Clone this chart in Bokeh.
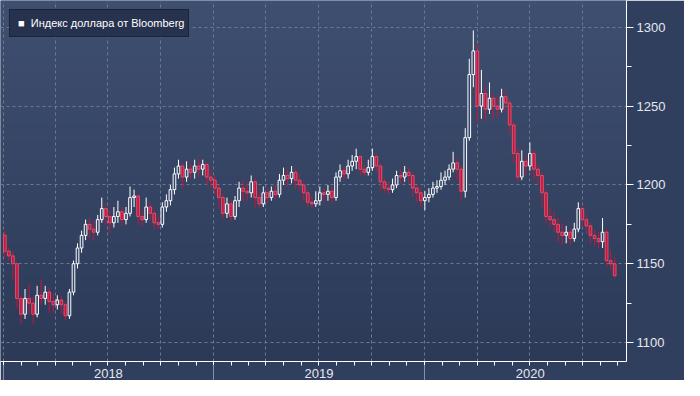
import numpy as np
import pandas as pd
from bokeh.plotting import figure
from bokeh.models import (ColumnDataSource, Range1d, FixedTicker, LinearAxis,
                          Legend, LegendItem, Label, Grid)
from bokeh.embed import file_html
from bokeh.resources import INLINE

# ---- data (weekly candles) ----
week_start = "2018-01-01"
opens = [1168, 1158, 1155, 1150, 1128, 1118, 1128, 1125, 1118, 1130, 1128, 1132, 1126, 1124, 1127, 1124,
         1117, 1132, 1150, 1160, 1168, 1175, 1172, 1170, 1178, 1185, 1180, 1176, 1180, 1183, 1178, 1182,
         1192, 1193, 1180, 1178, 1186, 1182, 1176, 1175, 1186, 1190, 1197, 1207, 1212, 1205, 1210, 1208,
         1212, 1210, 1213, 1205, 1203, 1198, 1192, 1182, 1188, 1180, 1190, 1198, 1196, 1195, 1202, 1192,
         1188, 1195, 1192, 1196, 1194, 1203, 1206, 1204, 1208, 1203, 1200, 1195, 1189, 1188, 1190, 1195,
         1194, 1196, 1192, 1205, 1209, 1207, 1212, 1215, 1218, 1210, 1208, 1211, 1218, 1212, 1202, 1198,
         1197, 1200, 1206, 1205, 1208, 1206, 1198, 1195, 1190, 1192, 1194, 1198, 1199, 1203, 1205, 1210,
         1214, 1210, 1196, 1230, 1270, 1285, 1250, 1258, 1248, 1255, 1250, 1248, 1256, 1252, 1238, 1220,
         1205, 1215, 1212, 1220, 1210, 1206, 1195, 1180, 1178, 1175, 1170, 1168, 1170, 1166, 1172, 1185,
         1178, 1174, 1168, 1166, 1164, 1170, 1152, 1150]
closes = [1158, 1155, 1150, 1128, 1118, 1128, 1125, 1118, 1130, 1128, 1132, 1126, 1124, 1127, 1124, 1117,
          1132, 1150, 1160, 1168, 1175, 1172, 1170, 1178, 1185, 1180, 1176, 1180, 1183, 1178, 1182, 1192,
          1193, 1180, 1178, 1186, 1182, 1176, 1175, 1186, 1190, 1197, 1207, 1212, 1205, 1210, 1208, 1212,
          1210, 1213, 1205, 1203, 1198, 1192, 1182, 1188, 1180, 1190, 1198, 1196, 1195, 1202, 1192, 1188,
          1195, 1192, 1196, 1194, 1203, 1206, 1204, 1208, 1203, 1200, 1195, 1189, 1188, 1190, 1195, 1194,
          1196, 1192, 1205, 1209, 1207, 1212, 1215, 1218, 1210, 1208, 1211, 1218, 1212, 1202, 1198, 1197,
          1200, 1206, 1205, 1208, 1206, 1198, 1195, 1190, 1192, 1194, 1198, 1199, 1203, 1205, 1210, 1214,
          1210, 1196, 1230, 1270, 1285, 1250, 1258, 1248, 1255, 1250, 1248, 1256, 1252, 1238, 1220, 1205,
          1215, 1212, 1220, 1210, 1206, 1195, 1180, 1178, 1175, 1170, 1168, 1170, 1166, 1172, 1185, 1178,
          1174, 1168, 1166, 1164, 1170, 1152, 1150, 1142.43]
highs = [1171, 1160, 1158, 1151, 1130, 1134, 1137, 1129, 1136, 1140, 1136, 1135, 1131, 1130, 1130, 1126,
         1134, 1152, 1163, 1171, 1178, 1179, 1177, 1181, 1192, 1188, 1184, 1186, 1190, 1186, 1186, 1199,
         1197, 1194, 1184, 1192, 1189, 1184, 1180, 1189, 1194, 1200, 1211, 1216, 1214, 1215, 1214, 1216,
         1217, 1216, 1214, 1210, 1206, 1200, 1194, 1192, 1190, 1193, 1202, 1203, 1201, 1206, 1204, 1196,
         1199, 1198, 1199, 1200, 1207, 1211, 1210, 1212, 1210, 1207, 1202, 1197, 1193, 1196, 1199, 1198,
         1200, 1199, 1208, 1213, 1212, 1216, 1219, 1223, 1219, 1213, 1216, 1223, 1220, 1214, 1204, 1202,
         1204, 1209, 1210, 1212, 1211, 1208, 1200, 1198, 1196, 1198, 1202, 1203, 1208, 1209, 1213, 1221,
         1217, 1212, 1236, 1280, 1298, 1290, 1273, 1263, 1265, 1258, 1256, 1261, 1260, 1254, 1240, 1224,
         1222, 1218, 1227, 1222, 1213, 1208, 1197, 1186, 1183, 1179, 1176, 1174, 1173, 1176, 1189, 1187,
         1181, 1176, 1172, 1170, 1179, 1172, 1159, 1154]
lows = [1154, 1152, 1140, 1122, 1112, 1115, 1118, 1112, 1116, 1124, 1124, 1119, 1119, 1121, 1118, 1114,
        1115, 1130, 1147, 1157, 1165, 1166, 1165, 1168, 1176, 1175, 1170, 1173, 1176, 1174, 1175, 1180,
        1186, 1175, 1174, 1176, 1178, 1172, 1172, 1173, 1183, 1187, 1194, 1204, 1198, 1202, 1204, 1204,
        1205, 1206, 1200, 1198, 1194, 1186, 1179, 1179, 1177, 1178, 1186, 1190, 1190, 1192, 1186, 1185,
        1186, 1188, 1190, 1191, 1192, 1200, 1199, 1201, 1198, 1196, 1190, 1186, 1185, 1186, 1187, 1189,
        1190, 1188, 1190, 1202, 1203, 1204, 1209, 1210, 1206, 1205, 1206, 1209, 1208, 1196, 1195, 1194,
        1195, 1198, 1201, 1202, 1201, 1193, 1189, 1186, 1184, 1189, 1192, 1195, 1197, 1200, 1203, 1208,
        1203, 1190, 1192, 1228, 1262, 1240, 1242, 1240, 1245, 1242, 1243, 1246, 1247, 1232, 1214, 1202,
        1203, 1206, 1209, 1204, 1200, 1186, 1176, 1173, 1170, 1164, 1162, 1163, 1162, 1164, 1170, 1174,
        1169, 1163, 1161, 1160, 1160, 1148, 1146, 1141]
series_name = "Индекс доллара от Bloomberg"
last_value = "1142.43"
y_ticks = [1100, 1150, 1200, 1250, 1300]
y_minor = [1125, 1175, 1225, 1275]
year_labels = ["2018", "2019", "2020"]

# ---- build table ----
n = len(closes)
starts = pd.date_range(week_start, periods=n, freq="7D")
centers = starts + pd.Timedelta(hours=60)
df = pd.DataFrame(dict(t=centers, o=opens, c=closes, h=highs, l=lows))
df["top"] = df[["o", "c"]].max(axis=1)
df["bot"] = df[["o", "c"]].min(axis=1)
up = ColumnDataSource(df[df.c >= df.o])
dn = ColumnDataSource(df[df.c < df.o])

def ms(s):
    return pd.Timestamp(s).value / 1e6

x0 = pd.Timestamp("2017-12-27")
x1 = pd.Timestamp("2020-12-16")
y0, y1 = 1088, 1317

BG_TOP = (63, 79, 112)
BG_BOT = (44, 58, 88)
TXT = "#e4e8ef"

p = figure(width=684, height=380, output_backend="svg", toolbar_location=None,
           x_axis_type=None, y_axis_location="right",
           x_range=Range1d(x0, x1), y_range=Range1d(y0, y1),
           min_border_left=0, min_border_top=0, min_border_right=58, min_border_bottom=0)
p.background_fill_color = "#35456a"
p.border_fill_color = "#313f5f"
p.outline_line_color = None

# gradient background of the frame
N = 64
img = np.empty((N, 1), dtype=np.uint32)
view = img.view(dtype=np.uint8).reshape((N, 1, 4))
for i in range(N):
    f = i / (N - 1)
    for k in range(3):
        view[i, 0, k] = int(BG_BOT[k] + (BG_TOP[k] - BG_BOT[k]) * f)
    view[i, 0, 3] = 255
bg = p.image_rgba(image=[img], x=ms(x0), y=y0, dw=ms(x1) - ms(x0), dh=y1 - y0)
bg.level = "image"

# grids
GRID = "#6a7996"
p.ygrid.ticker = FixedTicker(ticks=y_ticks)
p.ygrid.grid_line_color = GRID
p.ygrid.grid_line_dash = "3 3"
qt = [ms(d) for d in pd.date_range("2018-01-01", "2020-12-01", freq="QS")]
p.add_layout(Grid(dimension=0, ticker=FixedTicker(ticks=qt), grid_line_color=GRID,
                  grid_line_dash="3 3", grid_line_width=1))

# candles
WHITE = "#ffffff"
RED = "#c8153c"
w = 4.6 * 24 * 3600 * 1000
p.segment(x0="t", y0="h", x1="t", y1="l", source=up, line_color=WHITE, line_width=1)
p.segment(x0="t", y0="h", x1="t", y1="l", source=dn, line_color=RED, line_width=1)
p.vbar(x="t", top="top", bottom="bot", width=w, source=up, fill_color="#34446a",
       line_color=WHITE, line_width=1)
p.vbar(x="t", top="top", bottom="bot", width=w, source=dn, fill_color=RED,
       line_color="#e0506e", line_width=1)

# right y axis
ya = p.yaxis[0]
ya.ticker = FixedTicker(ticks=y_ticks, minor_ticks=y_minor)
ya.axis_line_color = WHITE
ya.major_tick_line_color = WHITE
ya.minor_tick_line_color = WHITE
ya.major_tick_in = 0
ya.major_tick_out = 7
ya.minor_tick_in = 0
ya.minor_tick_out = 5
ya.major_label_text_color = TXT
ya.major_label_text_font = "Liberation Sans"
ya.major_label_text_font_size = "13px"
ya.major_label_standoff = 3

# bottom axis 1: white line with month ticks
months = [ms(d) for d in pd.date_range("2018-01-01", "2020-12-01", freq="MS")]
xa = LinearAxis(ticker=FixedTicker(ticks=months))
xa.axis_line_color = WHITE
xa.major_tick_line_color = WHITE
xa.major_tick_in = 0
xa.major_tick_out = 4
xa.minor_tick_line_color = None
xa.major_label_text_font_size = "0px"
xa.major_label_text_alpha = 0
xa.major_label_standoff = 6
p.add_layout(xa, "below")

# bottom axis 2: year labels (mid-year) with year separators (minor ticks)
mids = [ms(f"{y}-07-02") for y in year_labels]
bounds = [ms(f"{y}-01-01") for y in year_labels]
xb = LinearAxis(ticker=FixedTicker(ticks=mids, minor_ticks=bounds))
xb.major_label_overrides = {m: s for m, s in zip(mids, year_labels)}
xb.axis_line_color = None
xb.major_tick_line_color = None
xb.major_tick_in = 0
xb.major_tick_out = 0
xb.minor_tick_line_color = "#8290aa"
xb.minor_tick_in = 0
xb.minor_tick_out = 22
xb.major_label_text_color = TXT
xb.major_label_text_font = "Liberation Sans"
xb.major_label_text_font_size = "13px"
xb.major_label_standoff = -19
p.add_layout(xb, "below")

# legend (named-location, swatch as a text square)
r_leg = p.scatter(x=[], y=[], marker="square", size=9, fill_color=WHITE, line_color=WHITE)
legend = Legend(items=[LegendItem(label="\u25a0  " + series_name, renderers=[r_leg])],
                location="top_left")
legend.margin = 9
legend.padding = 4
legend.spacing = 0
legend.glyph_width = 2
legend.glyph_height = 10
legend.label_height = 18
legend.label_standoff = 2
legend.label_text_color = WHITE
legend.label_text_font = "Liberation Sans"
legend.label_text_font_size = "11px"
legend.background_fill_color = "#27324f"
legend.background_fill_alpha = 1
legend.border_line_color = "#0d1424"
legend.border_line_width = 1
p.add_layout(legend)

# last value label (beside the price axis)
p.add_layout(Label(x=ms(x1), y=float(last_value), text=last_value, x_offset=8,
                   text_baseline="middle", text_align="left",
                   text_color="#000000", text_font="Liberation Sans", text_font_size="13px",
                   background_fill_color="#fbf8ec", background_fill_alpha=1,
                   border_line_color="#222222", border_line_width=1, padding=2))

open("out.html", "w").write(file_html(p, INLINE))
